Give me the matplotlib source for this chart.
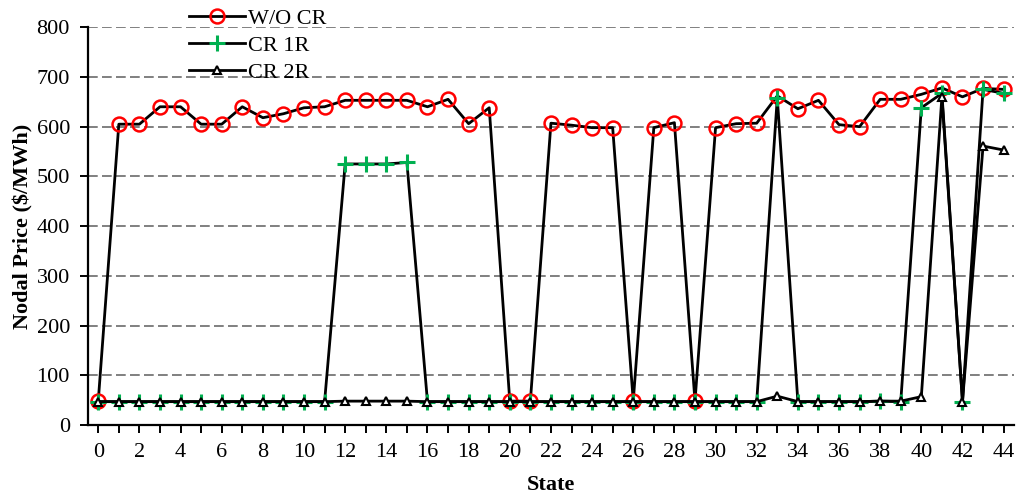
import matplotlib.pyplot as plt
import numpy as np

plt.rcParams["font.family"] = ["Liberation Serif", "DejaVu Serif"]

states = np.arange(45)

# nodal price at the bus for each state ($/MWh)
wo_cr = [48, 605, 605, 640, 640, 605, 605, 640, 618, 626,
         638, 640, 653, 653, 653, 653, 640, 655, 606, 638,
         48, 48, 607, 603, 598, 598, 48, 598, 608, 48,
         598, 606, 607, 662, 636, 653, 604, 600, 655, 655,
         665, 678, 660, 677, 675]
cr_1r = [47, 47, 47, 47, 47, 47, 47, 47, 47, 47,
         47, 47, 525, 525, 525, 528, 47, 47, 47, 47,
         47, 47, 47, 47, 47, 47, 47, 47, 47, 47,
         47, 47, 47, 658, 47, 47, 47, 47, 48, 47,
         638, 667, 47, 675, 667]
cr_2r = [47, 47, 47, 47, 47, 47, 47, 47, 47, 47,
         47, 47, 48, 48, 48, 48, 47, 47, 47, 47,
         47, 47, 47, 47, 47, 47, 47, 47, 47, 47,
         47, 47, 47, 58, 47, 47, 47, 47, 48, 48,
         57, 660, 47, 561, 553]

fig = plt.figure(figsize=(10.18, 4.95), dpi=100)
ax = fig.add_axes([0.0864, 0.1414, 0.9096, 0.8036])

ax.plot(states, wo_cr, color="black", lw=2, marker="o", ms=10,
        mfc="none", mec="#FF0000", mew=1.8, label="W/O CR", zorder=3)
ax.plot(states, cr_1r, color="black", lw=2, marker="+", ms=11,
        mec="#00B050", mew=2.2, label="CR 1R", zorder=4)
ax.plot(states, cr_2r, color="black", lw=2, marker="^", ms=6,
        mfc="white", mec="black", mew=1.5, label="CR 2R", zorder=5)

ax.set_xlim(-0.5, 44.5)
ax.set_ylim(0, 800)
ax.set_yticks(range(0, 801, 100))
ax.set_xticks(states)
ax.set_xticklabels([str(s) if s % 2 == 0 else "" for s in states])
ax.yaxis.grid(True, color="#808080", lw=1.4, ls=(0, (5, 2.2)))
ax.set_axisbelow(True)

for side in ("top", "right"):
    ax.spines[side].set_visible(False)
for side in ("left", "bottom"):
    ax.spines[side].set_linewidth(1.6)
ax.tick_params(axis="both", direction="out", length=6, width=1.4,
               labelsize=16, pad=7)

ax.set_xlabel("State", fontsize=16, fontweight="bold", labelpad=9)
ax.set_ylabel("Nodal Price ($/MWh)", fontsize=16, fontweight="bold", labelpad=2)

ax.legend(loc="upper left", bbox_to_anchor=(0.1, 1.07), frameon=False,
          fontsize=16, handlelength=2.5, handletextpad=0.15, labelspacing=0.3,
          borderaxespad=0)

fig.savefig("out.png", dpi=100)
